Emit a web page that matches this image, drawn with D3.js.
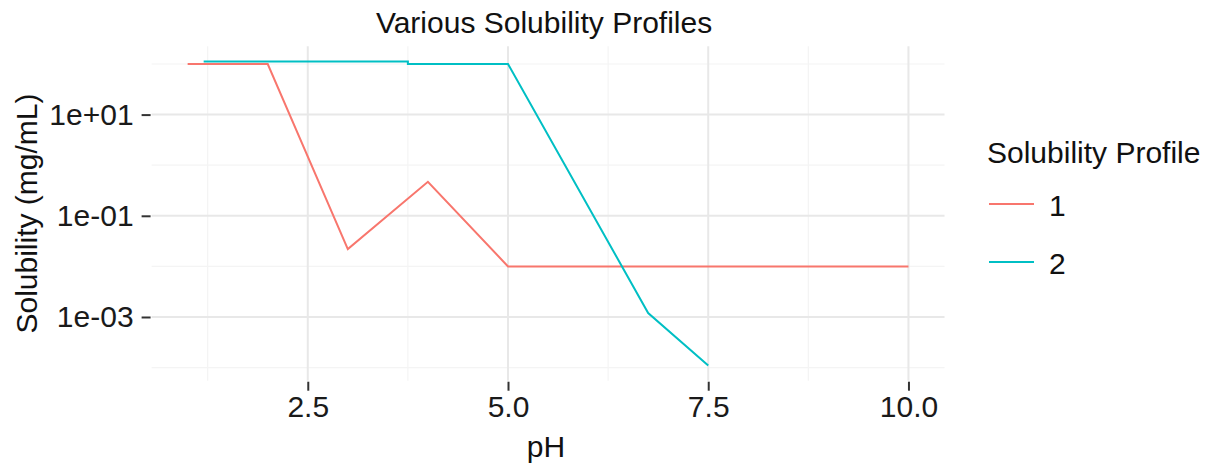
<!DOCTYPE html>
<html><head><meta charset="utf-8">
<script src="https://cdn.jsdelivr.net/npm/d3@7"></script>
<style>
html,body{margin:0;padding:0;background:#fff;}
text{font-family:"Liberation Sans",Arial,sans-serif;}
</style></head>
<body>
<svg id="chart" width="1205" height="466"></svg>
<script>
// Data
const profile1_pH = [1, 2, 3, 4, 5, 10];
const profile1_sol = [100, 100, 0.022, 0.47, 0.01, 0.01];
const profile2_pH = [1.2, 3.75, 3.75, 5, 6.75, 7.5];
const profile2_sol = [112, 112, 100, 100, 0.0012, 0.00011];
const seriesNames = ["1", "2"];
const seriesColors = ["#F8766D", "#00BFC4"];
const xTicks = [2.5, 5.0, 7.5, 10.0];
const xMinor = [1.25, 3.75, 6.25, 8.75];
const yTicks = [1e1, 1e-1, 1e-3];
const yTickLabels = ["1e+01", "1e-01", "1e-03"];
const yMinor = [1e2, 1e0, 1e-2, 1e-4];

const series = [
  profile1_pH.map((p,i)=>({x:p, y:profile1_sol[i]})),
  profile2_pH.map((p,i)=>({x:p, y:profile2_sol[i]}))
];

const FS = 30;
const svg = d3.select("#chart");
const panel = {left:151.6, right:944.5, top:46.3, bottom:380.7};

const allX = profile1_pH.concat(profile2_pH);
const allY = profile1_sol.concat(profile2_sol);
const xe = d3.extent(allX), xpad = (xe[1]-xe[0])*0.05;
const ly = d3.extent(allY).map(Math.log10), ypad = (ly[1]-ly[0])*0.05;

const x = d3.scaleLinear().domain([xe[0]-xpad, xe[1]+xpad]).range([panel.left, panel.right]);
const y = d3.scaleLog().domain([Math.pow(10, ly[0]-ypad), Math.pow(10, ly[1]+ypad)]).range([panel.bottom, panel.top]);

const g = svg.append("g");
// minor grid
g.selectAll(".xminor").data(xMinor).enter().append("line")
  .attr("x1", d=>x(d)).attr("x2", d=>x(d)).attr("y1", panel.top).attr("y2", panel.bottom)
  .attr("stroke", "#f4f4f4").attr("stroke-width", 1.2);
g.selectAll(".yminor").data(yMinor).enter().append("line")
  .attr("y1", d=>y(d)).attr("y2", d=>y(d)).attr("x1", panel.left).attr("x2", panel.right)
  .attr("stroke", "#f4f4f4").attr("stroke-width", 1.2);
// major grid
g.selectAll(".xmajor").data(xTicks).enter().append("line")
  .attr("x1", d=>x(d)).attr("x2", d=>x(d)).attr("y1", panel.top).attr("y2", panel.bottom)
  .attr("stroke", "#e8e8e8").attr("stroke-width", 2);
g.selectAll(".ymajor").data(yTicks).enter().append("line")
  .attr("y1", d=>y(d)).attr("y2", d=>y(d)).attr("x1", panel.left).attr("x2", panel.right)
  .attr("stroke", "#e8e8e8").attr("stroke-width", 2);

// axes
const xAxis = d3.axisBottom(x).tickValues(xTicks).tickFormat(d3.format(".1f")).tickSize(9).tickPadding(5);
const xg = svg.append("g").attr("transform", `translate(0,${panel.bottom+1})`).call(xAxis);
xg.select(".domain").remove();
xg.selectAll(".tick line").attr("stroke", "#333").attr("stroke-width", 2);
xg.selectAll(".tick text").attr("font-size", FS).attr("fill", "#1a1a1a").attr("font-family", "Liberation Sans, Arial, sans-serif");

const yAxis = d3.axisLeft(y).tickValues(yTicks).tickFormat((d,i)=>yTickLabels[i]).tickSize(9).tickPadding(8);
const yg = svg.append("g").attr("transform", `translate(${panel.left-1},0)`).call(yAxis);
yg.select(".domain").remove();
yg.selectAll(".tick line").attr("stroke", "#333").attr("stroke-width", 2);
yg.selectAll(".tick text").attr("font-size", FS).attr("fill", "#1a1a1a").attr("font-family", "Liberation Sans, Arial, sans-serif");

// lines
const line = d3.line().x(d=>x(d.x)).y(d=>y(d.y));
svg.selectAll(".series").data(series).enter().append("path")
  .attr("d", line).attr("fill", "none")
  .attr("stroke", (d,i)=>seriesColors[i]).attr("stroke-width", 2);

// titles
svg.append("text").attr("x", (panel.left+panel.right)/2 - 4).attr("y", 33)
  .attr("text-anchor", "middle").attr("font-size", FS).attr("fill", "#111").text("Various Solubility Profiles");
svg.append("text").attr("x", (panel.left+panel.right)/2 - 2).attr("y", 457)
  .attr("text-anchor", "middle").attr("font-size", FS).attr("fill", "#111").text("pH");
svg.append("text").attr("transform", `translate(37,${(panel.top+panel.bottom)/2}) rotate(-90)`)
  .attr("text-anchor", "middle").attr("font-size", FS).attr("fill", "#111").text("Solubility (mg/mL)");

// legend
const lg = svg.append("g");
lg.append("text").attr("x", 987).attr("y", 163).attr("font-size", FS).attr("fill", "#111").text("Solubility Profile");
const items = lg.selectAll(".item").data(seriesNames).enter().append("g")
  .attr("transform", (d,i)=>`translate(0,${204 + i*58})`);
items.append("line").attr("x1", 989).attr("x2", 1034).attr("y1", 0).attr("y2", 0)
  .attr("stroke", (d,i)=>seriesColors[i]).attr("stroke-width", 2);
items.append("text").attr("x", 1049).attr("y", 12).attr("font-size", FS).attr("fill", "#111").text(d=>d);
</script>
</body></html>
